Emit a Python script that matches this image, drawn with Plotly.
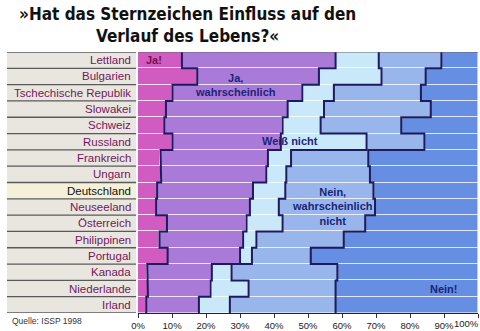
import plotly.graph_objects as go

countries = ["Lettland", "Bulgarien", "Tschechische Republik", "Slowakei", "Schweiz",
             "Russland", "Frankreich", "Ungarn", "Deutschland", "Neuseeland",
             "Österreich", "Philippinen", "Portugal", "Kanada", "Niederlande", "Irland"]

ja = [12.9, 17.4, 10.1, 8.2, 7.7, 10.1, 6.6, 6.8, 5.6, 5.3, 8.5, 6.3, 8.7, 2.7, 2.9, 2.4]
ja_wahrsch = [45.2, 35.8, 38.2, 35.8, 34.8, 31.9, 31.6, 30.9, 28.2, 27.6, 23.4, 24.6, 21.3, 19.0, 18.4, 15.5]
weiss_nicht = [12.7, 18.4, 9.3, 10.7, 11.2, 25.2, 6.8, 5.9, 9.5, 8.5, 10.6, 3.9, 3.5, 5.8, 11.2, 9.1]
nein_wahrsch = [18.4, 13.0, 25.6, 31.4, 23.7, 17.0, 22.7, 24.6, 25.9, 28.3, 24.3, 25.7, 17.3, 31.1, 25.6, 31.1]
nein = [10.8, 15.4, 16.8, 13.9, 22.6, 15.8, 32.3, 31.8, 30.8, 30.3, 33.2, 39.5, 49.2, 41.4, 41.9, 41.9]

series_names = ["Ja!", "Ja, wahrscheinlich", "Weiß nicht", "Nein, wahrscheinlich nicht", "Nein!"]
series_values = [ja, ja_wahrsch, weiss_nicht, nein_wahrsch, nein]
series_colors = ["#d05cc2", "#aa7ad8", "#c9e9fa", "#98b6ec", "#668ee2"]

tick_values = [0, 10, 20, 30, 40, 50, 60, 70, 80, 90, 100]
tick_labels = ["0%", "10%", "20%", "30%", "40%", "50%", "60%", "70%", "80%", "90%", "100%"]

highlight = "Deutschland"

n = len(countries)
rows = list(range(n))
W, H = 480, 331

fig = go.Figure()

# left label panel
panel_colors = ["#f5f1d8" if c == highlight else "#e9e6df" for c in countries]
fig.add_trace(go.Bar(x=[1] * n, y=rows, orientation="h", xaxis="x2", yaxis="y",
                     width=1, marker=dict(color=panel_colors, line=dict(width=0)),
                     showlegend=False, hoverinfo="skip"))

# stacked bars
for name, vals, col in zip(series_names, series_values, series_colors):
    fig.add_trace(go.Bar(x=vals, y=rows, orientation="h", name=name, width=1,
                         marker=dict(color=col, line=dict(color="rgba(255,255,255,0.55)", width=1)),
                         showlegend=False, hoverinfo="x+name"))

# staircase boundary lines
cum = [0.0] * n
for vals in series_values[:-1]:
    cum = [c + v for c, v in zip(cum, vals)]
    xs, ys = [], []
    for i in rows:
        xs += [cum[i], cum[i]]
        ys += [i - 0.5, i + 0.5]
    fig.add_trace(go.Scatter(x=xs, y=ys, mode="lines", xaxis="x", yaxis="y",
                             line=dict(color="#1b1b5e", width=2), showlegend=False,
                             hoverinfo="skip"))

shapes = []
for i in range(n + 1):
    shapes.append(dict(type="line", xref="x2", yref="y", x0=0, x1=1,
                       y0=i - 0.5, y1=i - 0.5, line=dict(color="#5a5a5a", width=1.3)))
shapes.append(dict(type="line", xref="x", yref="y", x0=0, x1=100, y0=-0.5, y1=-0.5,
                   line=dict(color="#666", width=1)))

annotations = []
for i, c in enumerate(countries):
    annotations.append(dict(x=0.965, y=i, xref="x2", yref="y", text=c, showarrow=False,
                            xanchor="right", yanchor="middle", borderpad=0,
                            font=dict(family="Liberation Sans, Arial, sans-serif", size=11.5,
                                      color="#111111" if c == highlight else "#74175e")))

tick_font = dict(family="Liberation Sans, Arial, sans-serif", size=9.5, color="#222")
lab_font = dict(family="Liberation Sans, Arial, sans-serif", size=11, color="#1c2478")
annotations += [
    dict(x=4.6, y=0, xref="x", yref="y", text="<b>Ja!</b>", showarrow=False, borderpad=0,
         font=dict(family="Liberation Sans, Arial, sans-serif", size=11, color="#7a0f4e")),
    dict(x=28.7, y=1.5, xref="x", yref="y", text="<b>Ja,<br>wahrscheinlich</b>", showarrow=False,
         font=lab_font),
    dict(x=44.6, y=4.95, xref="x", yref="y", text="<b>Weiß nicht</b>", showarrow=False,
         font=lab_font),
    dict(x=57.1, y=9, xref="x", yref="y", text="<b>Nein,<br>wahrscheinlich<br>nicht</b>",
         showarrow=False, font=lab_font),
    dict(x=90.1, y=14, xref="x", yref="y", text="<b>Nein!</b>", showarrow=False, font=lab_font),
    dict(x=1, y=0, xref="paper", yref="paper", text=tick_labels[-1], showarrow=False,
         xanchor="right", yanchor="top", yshift=-4, borderpad=0, font=tick_font),
    dict(x=3 / W, y=-8 / 263, xref="paper", yref="paper", text="Quelle: ISSP 1998",
         showarrow=False, xanchor="left", yanchor="middle",
         font=dict(family="Liberation Sans, Arial, sans-serif", size=8.5, color="#333")),
    dict(x=183 / W, y=1 + 49 / 263, xref="paper", yref="paper",
         text="<b>»Hat das Sternzeichen Einfluss auf den<br>Verlauf des Lebens?«</b>",
         showarrow=False, xanchor="center", yanchor="top", align="center", borderpad=0,
         font=dict(family="DejaVu Sans Condensed, DejaVu Sans, sans-serif",
                   size=17, color="#111")),
]

fig.update_layout(
    width=W, height=H,
    margin=dict(l=0, r=0, t=52, b=16),
    paper_bgcolor="white", plot_bgcolor="white",
    barmode="stack", bargap=0,
    xaxis=dict(domain=[133 / W, 478 / W], range=[0, 100], tickvals=tick_values,
               ticktext=tick_labels[:-1] + [""], ticks="outside", ticklen=4,
               tickcolor="#333", showline=True, linecolor="#1b1b5e", linewidth=1,
               showgrid=False, zeroline=False, fixedrange=True, tickfont=tick_font),
    xaxis2=dict(domain=[0, 131 / W], range=[0, 1], visible=False, anchor="y", fixedrange=True),
    yaxis=dict(range=[n - 0.5, -0.5], visible=False, fixedrange=True),
    shapes=shapes, annotations=annotations,
)

fig.write_html("out.html")
